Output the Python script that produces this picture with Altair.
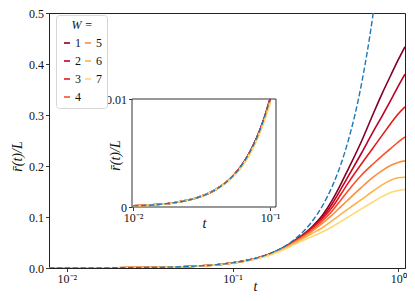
import altair as alt
import pandas as pd

# ---- data ----
t_vals = [0.0078, 0.01, 0.015, 0.02, 0.03, 0.04, 0.05, 0.06, 0.07, 0.08, 0.09, 0.1,
          0.125, 0.15, 0.175, 0.2, 0.25, 0.3, 0.35, 0.4, 0.45, 0.5, 0.6, 0.7, 0.8, 0.9, 1.0, 1.1]

w1 = [0.000061, 0.0001, 0.000225, 0.0004, 0.0009, 0.0016, 0.0025, 0.0036, 0.0049, 0.0064, 0.0081, 0.0100,
      0.0155, 0.0222, 0.0300, 0.0390, 0.0590, 0.0800, 0.1040, 0.1330, 0.1640, 0.1940, 0.2480, 0.2990, 0.3420, 0.3770, 0.4080, 0.4340]
w2 = [0.000061, 0.0001, 0.000225, 0.0004, 0.0009, 0.0016, 0.0025, 0.0036, 0.0049, 0.0064, 0.0081, 0.0100,
      0.0154, 0.0221, 0.0298, 0.0386, 0.0580, 0.0780, 0.1000, 0.1260, 0.1540, 0.1800, 0.2250, 0.2650, 0.2980, 0.3280, 0.3560, 0.3800]
w3 = [0.000061, 0.0001, 0.000225, 0.0004, 0.0009, 0.0016, 0.0025, 0.0036, 0.0049, 0.0064, 0.0080, 0.0099,
      0.0153, 0.0219, 0.0295, 0.0381, 0.0570, 0.0770, 0.0970, 0.1190, 0.1440, 0.1670, 0.2040, 0.2340, 0.2600, 0.2830, 0.3020, 0.3160]
w4 = [0.000061, 0.0001, 0.000225, 0.0004, 0.0009, 0.0016, 0.0025, 0.0036, 0.0048, 0.0063, 0.0080, 0.0099,
      0.0152, 0.0217, 0.0291, 0.0376, 0.0560, 0.0740, 0.0930, 0.1120, 0.1330, 0.1520, 0.1820, 0.2030, 0.2200, 0.2340, 0.2470, 0.2570]
w5 = [0.000061, 0.0001, 0.000225, 0.0004, 0.0009, 0.0016, 0.0025, 0.0035, 0.0048, 0.0063, 0.0079, 0.0098,
      0.0150, 0.0214, 0.0286, 0.0368, 0.0545, 0.0715, 0.0880, 0.1040, 0.1200, 0.1340, 0.1580, 0.1770, 0.1910, 0.2010, 0.2070, 0.2100]
w6 = [0.000061, 0.0001, 0.000225, 0.0004, 0.0009, 0.0016, 0.0025, 0.0035, 0.0048, 0.0062, 0.0079, 0.0097,
      0.0148, 0.0210, 0.0280, 0.0358, 0.0525, 0.0670, 0.0795, 0.0930, 0.1050, 0.1160, 0.1340, 0.1500, 0.1630, 0.1720, 0.1770, 0.1780]
w7 = [0.000060, 0.0001, 0.000222, 0.0004, 0.0009, 0.0016, 0.0024, 0.0035, 0.0047, 0.0062, 0.0078, 0.0095,
      0.0145, 0.0205, 0.0272, 0.0347, 0.0500, 0.0610, 0.0710, 0.0810, 0.0910, 0.1000, 0.1160, 0.1290, 0.1400, 0.1480, 0.1520, 0.1540]

dash_t = [0.0078, 0.01, 0.015, 0.02, 0.03, 0.04, 0.05, 0.06, 0.07, 0.08, 0.09, 0.1,
          0.125, 0.15, 0.175, 0.2, 0.25, 0.3, 0.35, 0.4, 0.45, 0.5, 0.6, 0.7, 0.75]
dash_r = [0.0000608, 0.0001, 0.000225, 0.0004, 0.0009, 0.0016, 0.0025, 0.0036, 0.0049, 0.0064, 0.0081, 0.0100,
          0.0156, 0.0225, 0.0306, 0.0400, 0.0625, 0.0900, 0.1225, 0.1600, 0.2025, 0.2500, 0.3600, 0.4900, 0.5625]

w_labels = ["1", "2", "3", "4", "5", "6", "7"]
w_colors = ["#800026", "#bd0026", "#e31a1c", "#fc4e2a", "#fd8d3c", "#feb24c", "#fed976"]
series = [w1, w2, w3, w4, w5, w6, w7]

rows = []
for lab, vals in zip(w_labels, series):
    for t, r in zip(t_vals, vals):
        rows.append({"t": t, "r": r, "W": lab})
df = pd.DataFrame(rows)
dfd = pd.DataFrame({"t": dash_t, "r": dash_r})

FONT = "Liberation Serif"
W, H = 356, 255
xlab = "datum.value < 0.05 ? '10⁻²' : (datum.value < 0.5 ? '10⁻¹' : '10⁰')"

color = alt.Color(
    "W:N",
    scale=alt.Scale(domain=w_labels, range=w_colors),
    legend=alt.Legend(
        orient="none", legendX=7, legendY=2, columns=2, title="W =",
        titleFontStyle="italic", titleFont=FONT, titleFontSize=12, titleFontWeight="normal",
        titleColor="#111", titleAnchor="middle", titlePadding=5, labelFont=FONT, labelFontSize=12,
        labelColor="#111", symbolType="stroke", symbolSize=36, symbolStrokeWidth=1.6, labelOffset=2,
        rowPadding=6, columnPadding=0, padding=5, cornerRadius=3,
        strokeColor="#d6d6d6", fillColor="white",
    ),
)

main_x = alt.X("t:Q", scale=alt.Scale(type="log", domain=[0.0078, 1.1], nice=False),
               axis=alt.Axis(orient="bottom", values=[0.01, 0.1, 1], labelExpr=xlab, title="t",
                             titleFontStyle="italic", titleX=206, titleY=18, titleBaseline="middle"))
main_y = alt.Y("r:Q", scale=alt.Scale(domain=[0, 0.5], nice=False),
               axis=alt.Axis(orient="left", values=[0, 0.1, 0.2, 0.3, 0.4, 0.5], format=".1f",
                             title="r̄(t)/L", titleFontStyle="italic", titleX=-32, titleY=143,
                             titleBaseline="middle"))

main_lines = alt.Chart(df).mark_line(strokeWidth=1.6, clip=True, interpolate="monotone").encode(
    x=main_x, y=main_y, color=color, detail="W:N")
main_dash = alt.Chart(dfd).mark_line(strokeWidth=1.4, clip=True, color="#1f77b4",
                                     strokeDash=[5.5, 2.4], interpolate="monotone").encode(
    x=alt.X("t:Q"), y=alt.Y("r:Q"))
main = alt.layer(main_lines, main_dash)

# ---- inset ----
in_x = alt.X("t:Q", scale=alt.Scale(type="log", domain=[0.00983, 0.1106], nice=False, range=[83, 227]),
             axis=alt.Axis(orient="bottom", offset=-61, values=[0.01, 0.1], labelExpr=xlab, title="t",
                           titleFontStyle="italic", titleX=155, titleY=16, titleBaseline="middle",
                           domain=False))
in_y = alt.Y("r:Q", scale=alt.Scale(domain=[0, 0.01], nice=False, zero=False, range=[194, 86]),
             axis=alt.Axis(orient="left", offset=-83, values=[0, 0.01],
                           labelExpr="datum.value == 0 ? '0' : '0.01'",
                           title="r̄(t)/L", titleFontStyle="italic", titleX=-17, titleY=142,
                           titleBaseline="middle", domain=False))

box = alt.Chart(pd.DataFrame({"a": [0]})).mark_rect(fill="white", stroke="#333333", strokeWidth=1).encode(
    x=alt.value(83), x2=alt.value(227), y=alt.value(86), y2=alt.value(194))
in_lines = alt.Chart(df).transform_filter("datum.t >= 0.0098 && datum.t <= 0.1001").mark_line(
    strokeWidth=1.6, interpolate="monotone").encode(x=in_x, y=in_y, color=color, detail="W:N")
in_dash = alt.Chart(dfd).transform_filter("datum.t >= 0.0098 && datum.t <= 0.1001").mark_line(
    strokeWidth=1.4, color="#1f77b4", strokeDash=[5.5, 2.4], interpolate="monotone").encode(
    x=alt.X("t:Q"), y=alt.Y("r:Q"))
inset = alt.layer(box, in_lines, in_dash)

chart = alt.layer(main, inset).resolve_scale(x="independent", y="independent").properties(
    width=W, height=H,
    autosize=alt.AutoSizeParams(type="none"),
    padding={"left": 41, "top": 5, "right": 2, "bottom": 25},
).configure_view(stroke="#222222", strokeWidth=1).configure_axis(
    labelFont=FONT, labelFontSize=12, labelColor="#111", titleFont=FONT, titleFontSize=14,
    titleFontWeight="normal", titleColor="#111", tickColor="#222", tickSize=3.5, tickWidth=0.9,
    labelPadding=2, grid=False, domainColor="#222", labelFlush=False, labelOverlap=False,
).configure_axisY(titleAngle=-90)

chart.save("out.html", embed_options={"renderer": "svg", "actions": False})
